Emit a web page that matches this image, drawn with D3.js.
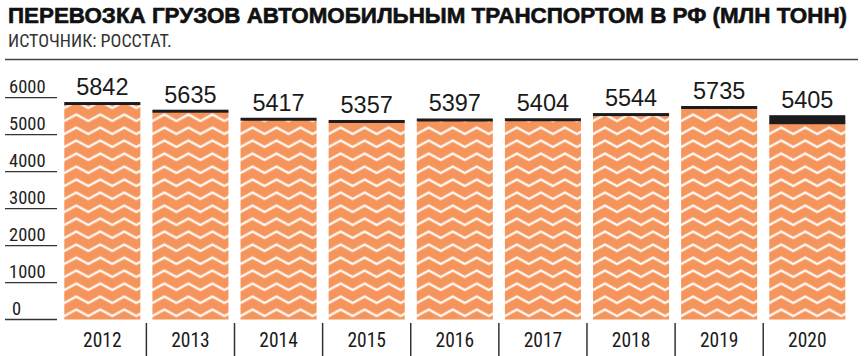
<!DOCTYPE html>
<html><head><meta charset="utf-8">
<script src="https://cdn.jsdelivr.net/npm/d3@7"></script>
<style>body{margin:0;background:#fff}svg{display:block}</style>
</head><body>
<svg id="c" width="866" height="356"></svg>
<script>
const title = "ПЕРЕВОЗКА ГРУЗОВ АВТОМОБИЛЬНЫМ ТРАНСПОРТОМ В РФ (МЛН ТОНН)";
const source = "ИСТОЧНИК: РОССТАТ.";
const years = ["2012","2013","2014","2015","2016","2017","2018","2019","2020"];
const values = [5842,5635,5417,5357,5397,5404,5544,5735,5405];
const yTicks = [0,1000,2000,3000,4000,5000,6000];

const narrow = "'Liberation Sans Narrow','Arial Narrow','Roboto Condensed',sans-serif";
const svg = d3.select("#c");
const orange = "#F5955C", dark = "#1c1c1e";

// title
svg.append("text").attr("x",8).attr("y",22.5)
  .attr("font-family","'Liberation Sans',Arial,sans-serif").attr("font-weight","900")
  .attr("font-size",22).attr("fill","#111").attr("stroke","#111").attr("stroke-width",0.6)
  .attr("textLength",839).attr("lengthAdjust","spacingAndGlyphs").text(title);
svg.append("text").attr("x",8).attr("y",46.5)
  .attr("font-family",narrow).attr("font-size",18).attr("fill","#333").text(source);
svg.append("line").attr("x1",5).attr("x2",858).attr("y1",59.5).attr("y2",59.5)
  .attr("stroke","#444").attr("stroke-width",1.5);

const y = d3.scaleLinear().domain([0,6000]).range([319.5,97.7]);
const x = d3.scaleBand().domain(years).range([64.3,845.3]).paddingInner(0.137).paddingOuter(0);

// y axis: custom lines and labels
const yg = svg.append("g");
yg.selectAll("line").data(yTicks).join("line")
  .attr("x1",5).attr("x2",57).attr("y1",d=>y(d)).attr("y2",d=>y(d))
  .attr("stroke","#333").attr("stroke-width",1.3);
yg.selectAll("text").data(yTicks).join("text")
  .attr("x",d=>d===0?12:9).attr("y",d=>y(d)-5)
  .attr("font-family",narrow).attr("font-size",18.5).attr("fill","#222").text(d=>d);

// patterns per bar
const defs = svg.append("defs");
const pw = 24, ph = 13, amp = 6.5;
years.forEach((yr,i)=>{
  const p = defs.append("pattern").attr("id","pat"+i).attr("patternUnits","userSpaceOnUse")
    .attr("x",x(yr)).attr("y",y(0)).attr("width",pw).attr("height",ph);
  p.append("rect").attr("width",pw).attr("height",ph).attr("fill",orange);
  const base = 9.5;
  const pts = [[-pw/2,base-amp],[0,base],[pw/2,base-amp],[pw,base],[pw*1.5,base-amp]];
  [0,-ph,ph].forEach(off=>{
    p.append("polyline").attr("points",pts.map(q=>q[0]+","+(q[1]+off)).join(" "))
      .attr("fill","none").attr("stroke","#fff").attr("stroke-width",2.4);
  });
});

const data = years.map((yr,i)=>({year:yr,value:values[i],i}));
const bandH = d => d.year==="2020" ? 9 : 3;
const bars = svg.append("g");
bars.selectAll("rect.bar").data(data).join("rect").attr("class","bar")
  .attr("x",d=>x(d.year)).attr("width",x.bandwidth())
  .attr("y",d=>y(d.value)).attr("height",d=>y(0)-y(d.value))
  .attr("fill",d=>`url(#pat${d.i})`);
bars.selectAll("rect.cap").data(data).join("rect").attr("class","cap")
  .attr("x",d=>x(d.year)).attr("width",x.bandwidth())
  .attr("y",d=>y(d.value)-bandH(d)/2).attr("height",bandH)
  .attr("fill",dark);
bars.selectAll("text").data(data).join("text")
  .attr("x",d=>x(d.year)+x.bandwidth()/2).attr("y",d=>y(d.value)-bandH(d)/2-7)
  .attr("text-anchor","middle").attr("font-family","'Liberation Sans',Arial,sans-serif")
  .attr("font-size",23.5).attr("fill","#1a1a1a").text(d=>d.value);

// x labels and separators
const xg = svg.append("g");
xg.selectAll("text").data(years).join("text")
  .attr("x",d=>x(d)+x.bandwidth()/2).attr("y",347)
  .attr("text-anchor","middle").attr("font-family",narrow).attr("font-size",19.5)
  .attr("fill","#1a1a1a").text(d=>d);
xg.selectAll("line").data(years.slice(1)).join("line")
  .attr("x1",d=>x(d)-x.step()*x.paddingInner()/2).attr("x2",d=>x(d)-x.step()*x.paddingInner()/2)
  .attr("y1",323).attr("y2",356).attr("stroke","#333").attr("stroke-width",1.5);
</script>
</body></html>
